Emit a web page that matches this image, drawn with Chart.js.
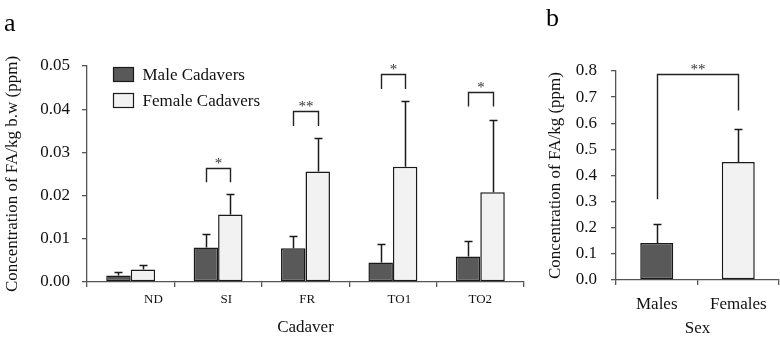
<!DOCTYPE html>
<html>
<head>
<meta charset="utf-8">
<script src="https://cdn.jsdelivr.net/npm/chart.js@4.4.1/dist/chart.umd.min.js"></script>
<style>
    body { margin: 0; background: #fff; }
    #wrap { position: relative; width: 780px; height: 340px; font-family: 'Liberation Serif', serif; }
    canvas { position: absolute; top: 0; }
    .panel { position: absolute; font-size: 26px; line-height: 26px; color: #000; }
</style>
</head>
<body>
<div id="wrap">
    <canvas id="cadaverChart" width="545" height="340" style="left:0"></canvas>
    <canvas id="sexChart" width="235" height="340" style="left:545px"></canvas>
    <div class="panel" style="left:4px;top:10px">a</div>
    <div class="panel" style="left:546px;top:5px">b</div>
</div>
<script>
// panel a: concentration per cadaver type
const cadaverLabels = ['ND', 'SI', 'FR', 'TO1', 'TO2'];
const maleMeans = [0.0015, 0.0080, 0.0078, 0.0045, 0.0059];
const maleErrors = [0.0007, 0.0032, 0.0028, 0.0044, 0.0035];
const femaleMeans = [0.0029, 0.0156, 0.0256, 0.0267, 0.0208];
const femaleErrors = [0.0011, 0.0047, 0.0078, 0.0152, 0.0167];

// significance brackets (panel a)
const sigCategories = ['SI', 'FR', 'TO1', 'TO2'];
const sigMarks = ['*', '**', '*', '*'];
const sigTops = [0.0265, 0.0395, 0.0481, 0.0440];
const sigFeet = [0.0231, 0.0361, 0.0447, 0.0406];

// panel b: concentration per sex
const sexLabels = ['Males', 'Females'];
const sexMeans = [0.142, 0.452];
const sexErrors = [0.074, 0.127];
const sexSigMark = '**';
const sexSigTop = 0.787;
const sexSigFeet = [0.309, 0.649];

const FONT = "'Liberation Serif', serif";
const MALE_COLOR = '#595959';
const FEMALE_COLOR = '#f2f2f2';
const EDGE = '#1a1a1a';
const AXIS = '#555555';

// leading spaces to push the category labels right like the original
const labelShift = [14, 5, 1, 4, 0];

Chart.defaults.font.family = FONT;

function drawErrorBars(chart, errorSets) {
    const ctx = chart.ctx;
    const yScale = chart.scales.y;
    ctx.save();
    ctx.strokeStyle = EDGE;
    ctx.lineWidth = 1.5;
    errorSets.forEach((errs, di) => {
        const meta = chart.getDatasetMeta(di);
        meta.data.forEach((bar, i) => {
            const val = chart.data.datasets[di].data[i];
            const yTop = Math.round(yScale.getPixelForValue(val + errs[i])) + 0.5;
            const x = Math.round(bar.x) + 0.5;
            ctx.beginPath();
            ctx.moveTo(x, bar.y);
            ctx.lineTo(x, yTop);
            ctx.moveTo(x - 4, yTop);
            ctx.lineTo(x + 4, yTop);
            ctx.stroke();
        });
    });
    ctx.restore();
}

function drawBracket(chart, x1, x2, top, foot1, foot2, mark) {
    const ctx = chart.ctx;
    const y = chart.scales.y;
    const yt = Math.round(y.getPixelForValue(top)) + 0.5;
    x1 = Math.round(x1) + 0.5;
    x2 = Math.round(x2) + 0.5;
    ctx.save();
    ctx.strokeStyle = '#222';
    ctx.lineWidth = 1.4;
    ctx.beginPath();
    ctx.moveTo(x1, y.getPixelForValue(foot1));
    ctx.lineTo(x1, yt);
    ctx.lineTo(x2, yt);
    ctx.lineTo(x2, y.getPixelForValue(foot2));
    ctx.stroke();
    ctx.fillStyle = '#333';
    ctx.font = '15px ' + FONT;
    ctx.textAlign = 'center';
    ctx.textBaseline = 'alphabetic';
    ctx.fillText(mark, (x1 + x2) / 2, yt - 1);
    ctx.restore();
}

const cadaverExtras = {
    id: 'cadaverExtras',
    afterDatasetsDraw(chart) {
        drawErrorBars(chart, [maleErrors, femaleErrors]);
        const maleMeta = chart.getDatasetMeta(0);
        const femaleMeta = chart.getDatasetMeta(1);
        sigCategories.forEach((cat, k) => {
            const i = cadaverLabels.indexOf(cat);
            drawBracket(chart, maleMeta.data[i].x, femaleMeta.data[i].x,
                sigTops[k], sigFeet[k], sigFeet[k], sigMarks[k]);
        });

        // legend inside the plot area
        const ctx = chart.ctx;
        const area = chart.chartArea;
        ctx.save();
        chart.data.datasets.forEach((ds, i) => {
            const bx = area.left + 26.5;
            const by = area.top + 1.5 + i * 26;
            ctx.fillStyle = ds.backgroundColor;
            ctx.fillRect(bx, by, 20, 14);
            ctx.strokeStyle = EDGE;
            ctx.lineWidth = 1.2;
            ctx.strokeRect(bx, by, 20, 14);
            ctx.fillStyle = '#111';
            ctx.font = '17px ' + FONT;
            ctx.textAlign = 'left';
            ctx.textBaseline = 'middle';
            ctx.fillText(ds.label, bx + 29, by + 8);
        });
        ctx.restore();
    }
};

const sexExtras = {
    id: 'sexExtras',
    afterDatasetsDraw(chart) {
        drawErrorBars(chart, [sexErrors]);
        const meta = chart.getDatasetMeta(0);
        drawBracket(chart, meta.data[0].x, meta.data[1].x,
            sexSigTop, sexSigFeet[0], sexSigFeet[1], sexSigMark);
    }
};

function axisGrid() {
    return {
        display: true,
        drawOnChartArea: false,
        drawTicks: true,
        tickLength: 5,
        color: AXIS,
        lineWidth: 1.3
    };
}

function axisBorder() {
    return { display: true, color: AXIS, width: 1.3 };
}

function buildCharts() {
    new Chart(document.getElementById('cadaverChart'), {
        type: 'bar',
        data: {
            labels: cadaverLabels,
            datasets: [{
                label: 'Male Cadavers',
                data: maleMeans,
                backgroundColor: MALE_COLOR,
                borderColor: EDGE,
                borderWidth: 1.5,
                borderSkipped: false
            }, {
                label: 'Female Cadavers',
                data: femaleMeans,
                backgroundColor: FEMALE_COLOR,
                borderColor: EDGE,
                borderWidth: 1.5,
                borderSkipped: false
            }]
        },
        options: {
            responsive: false,
            animation: false,
            layout: { padding: { top: 66, right: 21, left: 0, bottom: 0 } },
            categoryPercentage: 0.56,
            barPercentage: 1.0,
            plugins: { legend: { display: false }, tooltip: { enabled: false } },
            scales: {
                x: {
                    grid: axisGrid(),
                    border: axisBorder(),
                    ticks: {
                        color: '#111',
                        font: { family: FONT, size: 13 },
                        padding: 5,
                        maxRotation: 0,
                        autoSkip: false,
                        callback: (v, i) => ' '.repeat(labelShift[i]) + cadaverLabels[i]
                    },
                    title: {
                        display: true,
                        text: 'Cadaver',
                        color: '#111',
                        font: { family: FONT, size: 17 },
                        padding: { top: 0, bottom: 2 }
                    },
                    afterFit(scale) { scale.height = 58; }
                },
                y: {
                    min: 0,
                    max: 0.05,
                    grid: axisGrid(),
                    border: axisBorder(),
                    ticks: {
                        stepSize: 0.01,
                        color: '#111',
                        font: { family: FONT, size: 17 },
                        padding: 12,
                        callback: v => v.toFixed(2)
                    },
                    title: {
                        display: true,
                        text: 'Concentration of FA/kg b.w (ppm)',
                        color: '#111',
                        font: { family: FONT, size: 17 },
                        padding: { top: 2, bottom: 0 }
                    },
                    afterFit(scale) { scale.width = 87; }
                }
            }
        },
        plugins: [cadaverExtras]
    });

    new Chart(document.getElementById('sexChart'), {
        type: 'bar',
        data: {
            labels: sexLabels,
            datasets: [{
                label: 'Sex',
                data: sexMeans,
                backgroundColor: [MALE_COLOR, FEMALE_COLOR],
                borderColor: EDGE,
                borderWidth: 1.5,
                borderSkipped: false
            }]
        },
        options: {
            responsive: false,
            animation: false,
            layout: { padding: { top: 71, right: 1, left: 0, bottom: 0 } },
            categoryPercentage: 0.405,
            barPercentage: 1.0,
            plugins: { legend: { display: false }, tooltip: { enabled: false } },
            scales: {
                x: {
                    grid: axisGrid(),
                    border: axisBorder(),
                    ticks: {
                        color: '#111',
                        font: { family: FONT, size: 17 },
                        padding: 9,
                        maxRotation: 0,
                        autoSkip: false
                    },
                    title: {
                        display: true,
                        text: 'Sex',
                        color: '#111',
                        font: { family: FONT, size: 17 },
                        padding: { top: 0, bottom: 1 }
                    },
                    afterFit(scale) { scale.height = 60; }
                },
                y: {
                    min: 0,
                    max: 0.8,
                    grid: axisGrid(),
                    border: axisBorder(),
                    ticks: {
                        stepSize: 0.1,
                        color: '#111',
                        font: { family: FONT, size: 17 },
                        padding: 14,
                        callback: v => v.toFixed(1)
                    },
                    title: {
                        display: true,
                        text: 'Concentration of FA/kg (ppm)',
                        color: '#111',
                        font: { family: FONT, size: 17 },
                        padding: { top: 0, bottom: 0 }
                    },
                    afterFit(scale) { scale.width = 71; }
                }
            }
        },
        plugins: [sexExtras]
    });
}

// make sure the serif face is ready before the canvases measure text
document.fonts.load("17px 'Liberation Serif'").then(buildCharts, buildCharts);
</script>
</body>
</html>
